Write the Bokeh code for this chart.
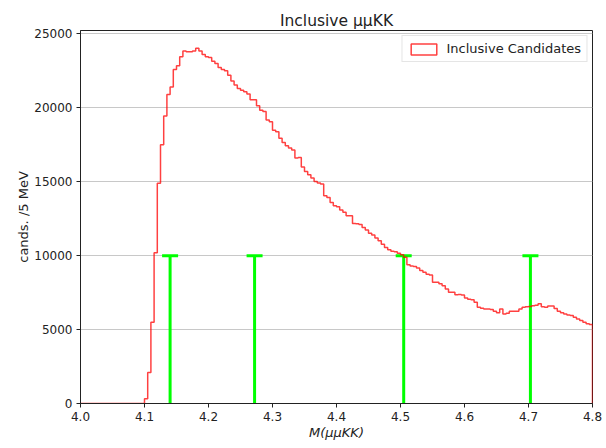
import numpy as np
from bokeh.plotting import figure
from bokeh.models import (ColumnDataSource, Whisker, TeeHead, Legend, LegendItem,
                          FixedTicker, NumeralTickFormatter, Range1d)
from bokeh.embed import file_html
from bokeh.resources import INLINE

# ---------------- data ----------------
bin_start = 4.0      # GeV
bin_width = 0.005    # 5 MeV bins
counts = [
    # 4.000 - 4.095
    0, 0, 0, 0, 0, 0, 0, 0, 0, 0,
    0, 0, 0, 0, 0, 0, 0, 0, 0, 0,
    # 4.100 - 4.195
    320, 2100, 5500, 10200, 14900, 17500, 19450, 20900, 21400, 22600,
    22850, 23450, 23850, 23800, 23800, 23850, 24030, 23850, 23600, 23450,
    # 4.200 - 4.295
    23400, 23150, 23000, 22720, 22600, 22500, 22200, 21820, 21550, 21300,
    21190, 21080, 20930, 20540, 20540, 20140, 19840, 19750, 19170, 19050,
    # 4.300 - 4.395
    18490, 18380, 17950, 17660, 17430, 17280, 17140, 16600, 16640, 16000,
    15700, 15470, 15250, 15020, 14910, 14840, 14050, 13940, 13600, 13380,
    # 4.400 - 4.495
    13300, 13090, 12930, 12700, 12700, 12180, 12150, 12100, 11910, 11730,
    11510, 11400, 11200, 11010, 10780, 10560, 10400, 10300, 10270, 10160,
    # 4.500 - 4.595
    10070, 9900, 9390, 9300, 9260, 9170, 8990, 8870, 8750, 8700,
    8200, 8200, 8100, 7970, 7750, 7520, 7520, 7360, 7380, 7340,
    # 4.600 - 4.695
    7140, 7050, 7010, 6850, 6510, 6450, 6400, 6400, 6350, 6240,
    6130, 6400, 6060, 6100, 6240, 6240, 6240, 6400, 6510, 6550,
    # 4.700 - 4.795
    6560, 6620, 6650, 6750, 6550, 6510, 6600, 6600, 6420, 6240,
    6130, 6060, 5990, 5950, 5840, 5720, 5610, 5500, 5390, 5340,
]
peak_masses = [4.140, 4.272, 4.505, 4.703]
peak_heights = [10000, 10000, 10000, 10000]
x_ticks = [4.0, 4.1, 4.2, 4.3, 4.4, 4.5, 4.6, 4.7, 4.8]
y_ticks = [0, 5000, 10000, 15000, 20000, 25000]

FONT = "DejaVu Sans"

# ---------------- derived ----------------
n = len(counts)
edges = bin_start + bin_width * np.arange(n + 1)
step_x = np.concatenate([[edges[0]], np.repeat(edges, 2)[1:-1], [edges[-1]]])
step_y = np.concatenate([[0], np.repeat(counts, 2), [0]])

p = figure(width=606, height=448, output_backend="svg", toolbar_location=None,
           x_range=Range1d(4.0, 4.8), y_range=Range1d(0, 25230),
           min_border_left=80, min_border_right=14, min_border_top=30, min_border_bottom=45,
           title="Inclusive μμKK")
p.title.align = "center"
p.title.text_font = FONT
p.title.text_font_size = "15.5px"
p.title.text_font_style = "normal"
p.title.text_color = "#222222"
p.title.standoff = 2

hist_src = ColumnDataSource(dict(left=edges[:-1], right=edges[1:], top=counts,
                                 bottom=[0] * n))
p.line(step_x, step_y, line_color="#ff0000", line_alpha=0.75, line_width=1.5)

# legend proxy (rectangle outline)
proxy = p.quad(left="left", right="right", top="top", bottom="bottom", source=hist_src,
               fill_alpha=0, line_color="#ff0000", line_alpha=0.75, line_width=1.5)
proxy.visible = False

# green markers
mk_src = ColumnDataSource(dict(x=peak_masses, up=peak_heights, low=[0] * len(peak_masses)))
wh = Whisker(source=mk_src, base="x", upper="up", lower="low", dimension="height",
             line_color="#00ff00", line_width=3,
             upper_head=TeeHead(size=16, line_color="#00ff00", line_width=3),
             lower_head=None)
p.add_layout(wh)

legend = Legend(items=[LegendItem(label="Inclusive Candidates", renderers=[proxy])],
                location="top_right")
legend.label_text_font = FONT
legend.label_text_font_size = "13px"
legend.label_text_color = "#222222"
legend.glyph_width = 32
legend.glyph_height = 14
legend.label_height = 14
legend.label_standoff = 7
legend.padding = 5
legend.margin = 5
legend.spacing = 0
legend.border_line_color = "#cccccc"
legend.border_line_width = 1
legend.background_fill_alpha = 0.8
legend.inactive_fill_alpha = 0
p.add_layout(legend)

# axes
p.xaxis.ticker = FixedTicker(ticks=x_ticks)
p.yaxis.ticker = FixedTicker(ticks=y_ticks)
p.xaxis.formatter = NumeralTickFormatter(format="0.0")
p.yaxis.formatter = NumeralTickFormatter(format="0")
for ax in (p.xaxis, p.yaxis):
    ax.major_label_text_font = FONT
    ax.major_label_text_font_size = "12px"
    ax.major_label_text_color = "#222222"
    ax.axis_label_text_font = FONT
    ax.axis_label_text_font_size = "13px"
    ax.axis_label_text_color = "#222222"
    ax.minor_tick_line_color = None
    ax.major_tick_in = 0
    ax.major_tick_out = 4
    ax.major_label_standoff = 4
    ax.axis_line_color = "#222222"
    ax.major_tick_line_color = "#222222"
p.xaxis.axis_label = "M(μμKK)"
p.xaxis.axis_label_text_font_style = "italic"
p.xaxis.axis_label_standoff = 1
p.yaxis.axis_label = "cands. /5 MeV"
p.yaxis.axis_label_text_font_style = "normal"
p.yaxis.axis_label_standoff = 0

p.xgrid.visible = False
p.ygrid.grid_line_color = "#c8c8c8"
p.ygrid.grid_line_width = 1
p.outline_line_color = "#222222"
p.outline_line_alpha = 1
p.background_fill_color = "white"
p.border_fill_color = "white"

open("out.html", "w").write(file_html(p, INLINE))
